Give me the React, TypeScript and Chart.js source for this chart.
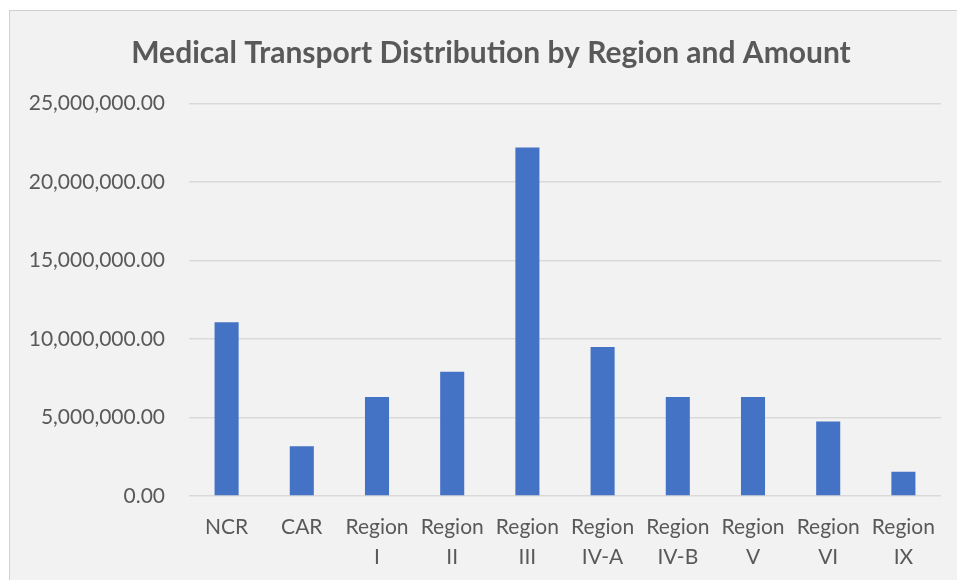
import React, { useEffect, useRef } from "react";
import { Chart, registerables } from "chart.js";

Chart.register(...registerables);

const TITLE = "Medical Transport Distribution by Region and Amount";
const categoryLabels: string[][] = [
  ["NCR"],
  ["CAR"],
  ["Region", "I"],
  ["Region", "II"],
  ["Region", "III"],
  ["Region", "IV-A"],
  ["Region", "IV-B"],
  ["Region", "V"],
  ["Region", "VI"],
  ["Region", "IX"],
];
const amounts: number[] = [
  11060000, 3170000, 6310000, 7920000, 22190000, 9490000, 6310000, 6310000, 4740000, 1550000,
];
const yMin = 0;
const yMax = 25000000;
const yStep = 5000000;

const FONT = "Lato, 'Open Sans', sans-serif";
const TEXT = "#595959";

const centerTitle = {
  id: "centerTitle",
  afterLayout(chart: any) {
    const t = chart.titleBlock;
    if (t) {
      t.left = 0;
      t.right = chart.width;
      t.width = chart.width;
    }
  },
};

export default function App() {
  const ref = useRef<HTMLCanvasElement | null>(null);

  useEffect(() => {
    if (!ref.current) return;
    const chart = new Chart(ref.current, {
      type: "bar",
      data: {
        labels: categoryLabels,
        datasets: [
          {
            data: amounts,
            backgroundColor: "#4472C4",
            borderWidth: 0,
            categoryPercentage: 1,
            barPercentage: 0.32,
          },
        ],
      },
      plugins: [centerTitle],
      options: {
        animation: false,
        responsive: false,
        maintainAspectRatio: false,
        layout: { padding: { top: 24, right: 31, bottom: 0, left: 0 } },
        plugins: {
          legend: { display: false },
          tooltip: { enabled: false },
          title: {
            display: true,
            text: TITLE,
            color: TEXT,
            font: { family: FONT, size: 30, weight: "bold", lineHeight: 1.2 },
            padding: { top: 0, bottom: 32.5 },
          },
        },
        scales: {
          x: {
            grid: { display: false },
            border: { display: false },
            ticks: {
              color: TEXT,
              font: { family: FONT, size: 21, lineHeight: 1.43 },
              padding: 8,
              maxRotation: 0,
              autoSkip: false,
            },
            afterFit: (scale: any) => {
              scale.height = 84;
            },
          },
          y: {
            min: yMin,
            max: yMax,
            grid: { color: "#d9d9d9", lineWidth: 1.5, drawTicks: false },
            border: { display: false },
            ticks: {
              stepSize: yStep,
              color: TEXT,
              font: { family: FONT, size: 21 },
              padding: 24,
              callback: (v: any) =>
                Number(v).toLocaleString("en-US", {
                  minimumFractionDigits: 2,
                  maximumFractionDigits: 2,
                }),
            },
            afterFit: (scale: any) => {
              scale.width = 179;
            },
          },
        },
      },
    });
    return () => chart.destroy();
  }, []);

  return (
    <div
      style={{
        position: "fixed",
        left: 0,
        top: 0,
        width: 957,
        height: 580,
        overflow: "hidden",
        background: "#ffffff",
      }}
    >
      <div
        style={{
          position: "absolute",
          left: 9,
          top: 10,
          width: 962,
          height: 600,
          border: "1px solid #d0d0d0",
          background: "#f2f2f2",
        }}
      >
        <canvas ref={ref} width={962} height={569} style={{ display: "block" }} />
      </div>
    </div>
  );
}
